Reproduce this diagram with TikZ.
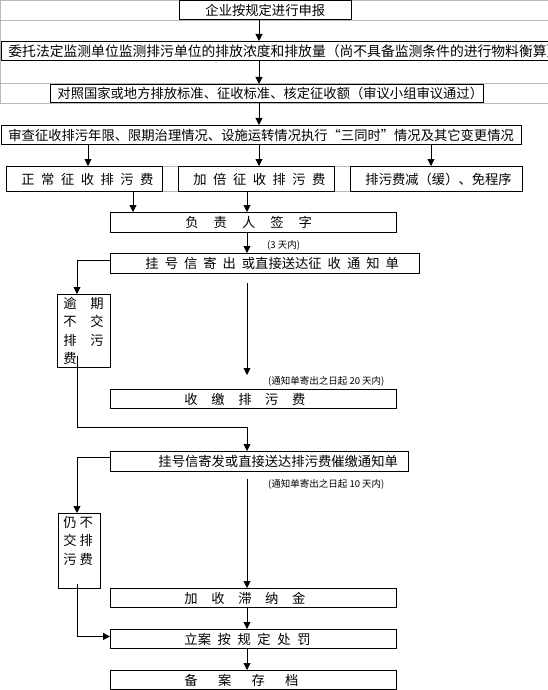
\documentclass[tikz,border=0pt]{standalone}
\usepackage{fontspec}
\setmainfont{Noto Sans CJK SC}
\usetikzlibrary{arrows.meta,calc}
\newcommand\gp[1]{\hspace*{#1pt}}
\newcommand\bx[3]{\makebox[#1pt][l]{\hspace*{#2pt}#3}}
\begin{document}
\begin{tikzpicture}[x=1pt,y=-1pt,
  every node/.style={font=\fontsize{13.3}{16}\selectfont},
  box/.style={draw, line width=0.9pt, inner sep=0pt, anchor=north west},
  arr/.style={line width=0.9pt, -{Triangle[length=7pt,width=7pt]}},
  grid/.style={draw=gray!55, line width=0.8pt},
  note/.style={font=\fontsize{9.5}{11}\selectfont, anchor=west, inner sep=0pt}]
\useasboundingbox (0,0) rectangle (548,690);
\clip (0,0) rectangle (548,690);
% faint table lines
\draw[grid] (0,0.5) -- (548,0.5);
\draw[grid] (0,20) -- (548,20);
\draw[grid] (0,83) -- (548,83);
\draw[grid] (0,103) -- (548,103);
\draw[grid] (0.5,0) -- (0.5,103);
\draw[grid] (162,166) -- (178,166);
\draw[grid] (162,191) -- (178,191);
\draw[grid] (334,166) -- (350,166);
\draw[grid] (334,191) -- (350,191);
% boxes
\node[box, minimum height=19pt] (A) at (179,0.5) {\bx{172}{26}{企业按规定进行申报}};
\node[box, minimum height=19pt] (B) at (0.5,41) {\bx{570}{7.5}{\fontsize{13.8}{16}\selectfont 委托法定监测单位监测排污单位的排放浓度和排放量（尚不具备监测条件的进行物料衡算）}};
\node[box, minimum height=18pt] (C) at (50,84) {\bx{433}{7}{对照国家或地方排放标准、征收标准、核定征收额（审议小组审议通过）}};
\node[box, minimum height=19pt] (D) at (0.5,125) {\bx{520.5}{7.5}{审查征收排污年限、限期治理情况、设施运转情况执行“三同时”情况及其它变更情况}};
\node[box, minimum height=25pt] (E1) at (6,166) {\bx{156}{15}{正\gp{6.5}常\gp{6.5}征\gp{6.5}收\gp{6.5}排\gp{6.5}污\gp{6.5}费}};
\node[box, minimum height=25pt] (E2) at (178,166) {\bx{156}{15}{加\gp{6.5}倍\gp{6.5}征\gp{6.5}收\gp{6.5}排\gp{6.5}污\gp{6.5}费}};
\node[box, minimum height=25pt] (E3) at (350,166) {\bx{172}{15}{排污费减（缓）、免程序}};
\node[box, minimum height=20pt] (F) at (110,212) {\bx{286}{75}{负\gp{15}责\gp{15}人\gp{15}签\gp{15}字}};
\node[box, minimum height=20pt] (G) at (110,253) {\bx{309}{35}{挂\gp{6}号\gp{6}信\gp{6}寄\gp{6}出\gp{6}或直接送达征\gp{6}收\gp{6}通\gp{6}知\gp{6}单}};
\node[box] (H) at (57,294) {\parbox[c][73pt][t]{53pt}{\fontsize{13.3}{18.5}\selectfont\vspace*{2.5pt}\hspace*{6pt}逾\gp{13.7}期\\\hspace*{6pt}不\gp{13.7}交\\\hspace*{6pt}排\gp{13.7}污\\\hspace*{6pt}费}};
\node[box, minimum height=19pt] (I) at (110,389) {\bx{286}{74}{收\gp{13.6}缴\gp{13.6}排\gp{13.6}污\gp{13.6}费}};
\node[box, minimum height=20pt] (J) at (110,451) {\bx{298}{48}{挂号信寄发或直接送达排污费催缴通知单}};
\node[box] (K) at (58,513) {\parbox[c][75pt][t]{42pt}{\fontsize{13.3}{18.5}\selectfont\vspace*{2.5pt}\hspace*{5pt}仍\gp{3}不\\\hspace*{5pt}交\gp{3}排\\\hspace*{5pt}污\gp{3}费}};
\node[box, minimum height=19pt] (L) at (110,588) {\bx{286}{74}{加\gp{13.6}收\gp{13.6}滞\gp{13.6}纳\gp{13.6}金}};
\node[box, minimum height=19pt] (M) at (110,629) {\bx{286}{74}{立案\gp{6.6}按\gp{6.6}规\gp{6.6}定\gp{6.6}处\gp{6.6}罚}};
\node[box, minimum height=19pt] (N) at (110,670) {\bx{286}{74}{备\gp{20.3}案\gp{20.3}存\gp{20.3}档}};
% notes
\node[note] (n3) at (267,245) {(3 天内)};
\node[note] (n20) at (268,381) {(通知单寄出之日起 20 天内)};
\node[note] (n10) at (268,484) {(通知单寄出之日起 10 天内)};
% reference x positions
\coordinate (x259) at (259,0);
\coordinate (x88) at (88,0);
\coordinate (x431) at (431,0);
\coordinate (x133) at (133,0);
\coordinate (x247) at (247,0);
\coordinate (x77) at (77,0);
\coordinate (hjy) at (0,427);
% connectors
\draw[arr] (A.south -| x259) -- (B.north -| x259);
\draw[arr] (B.south -| x259) -- (C.north -| x259);
\draw[arr] (C.south -| x259) -- (D.north -| x259);
\draw[arr] (D.south -| x88) -- (E1.north -| x88);
\draw[arr] (D.south -| x259) -- (E2.north -| x259);
\draw[arr] (D.south -| x431) -- (E3.north -| x431);
\draw[arr] (E1.south -| x133) -- (F.north -| x133);
\draw[arr] (E2.south -| x247) -- (F.north -| x247);
\draw[arr] (F.south -| x247) -- (G.north -| x247);
\draw[arr] ([yshift=3pt]G.west) -| (x77 |- H.north);
\draw[arr, shorten <=9pt, shorten >=14pt] (G.south -| x247) -- (I.north -| x247);
\draw[arr] ($(x77 |- H.south)+(0,-12)$) |- (x247 |- hjy) -- (J.north -| x247);
\draw[arr] ([yshift=4pt]J.west) -| (x77 |- K.north);
\draw[arr, shorten <=7pt] (J.south -| x247) -- (L.north -| x247);
\draw[arr] (L.south -| x247) -- (M.north -| x247);
\draw[arr] (M.south -| x247) -- (N.north -| x247);
\draw[arr] ($(x77 |- K.south)+(0,-5)$) |- ([yshift=2.5pt]M.west);
\end{tikzpicture}
\end{document}
